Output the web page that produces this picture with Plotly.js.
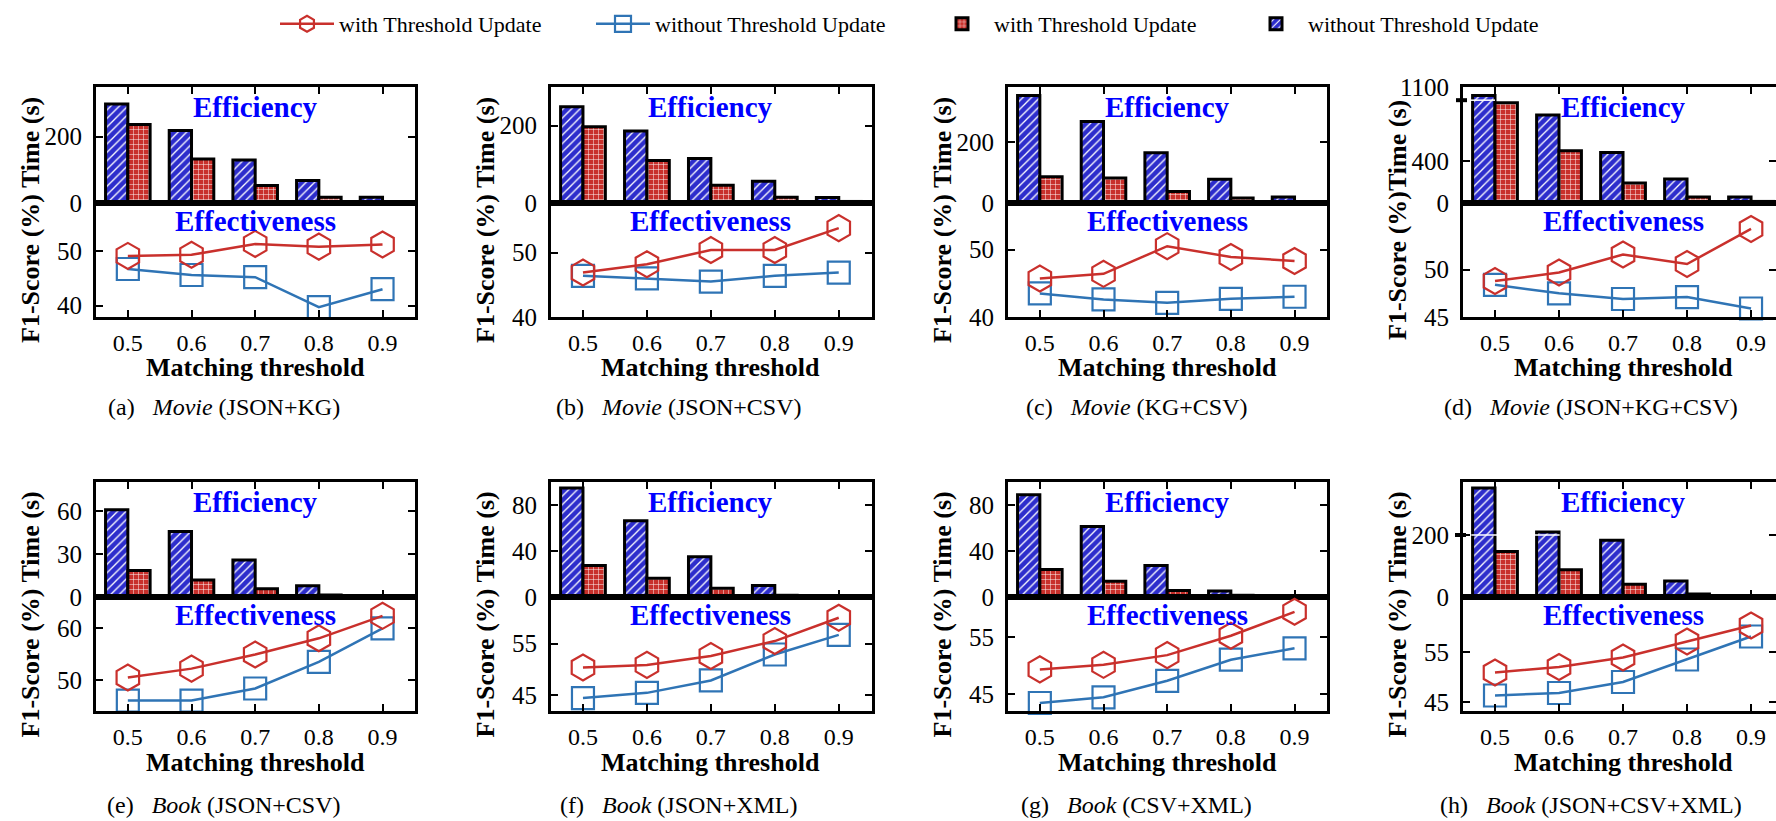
<!DOCTYPE html>
<html><head><meta charset="utf-8">
<script src="https://cdn.plot.ly/plotly-3.0.1.min.js"></script>
<style>html,body{margin:0;padding:0;background:#fff;} #chart{width:1776px;height:821px;}</style>
</head><body><div id="chart"></div>
<script>
// ---------- data ----------
const thresholds = [0.5, 0.6, 0.7, 0.8, 0.9];
const thresholdLabels = ['0.5', '0.6', '0.7', '0.8', '0.9'];
const seriesNames = ['with Threshold Update', 'without Threshold Update'];
const panelTags = ['(a)', '(b)', '(c)', '(d)', '(e)', '(f)', '(g)', '(h)'];
const panelDatasets = ['Movie', 'Movie', 'Movie', 'Movie', 'Book', 'Book', 'Book', 'Book'];
const panelSources = ['(JSON+KG)', '(JSON+CSV)', '(KG+CSV)', '(JSON+KG+CSV)', '(JSON+CSV)', '(JSON+XML)', '(CSV+XML)', '(JSON+CSV+XML)'];
const yTitles = ['F1-Score (%) Time (s)', 'F1-Score (%) Time (s)', 'F1-Score (%) Time (s)', 'F1-Score (%)Time (s)',
                 'F1-Score (%) Time (s)', 'F1-Score (%) Time (s)', 'F1-Score (%) Time (s)', 'F1-Score (%) Time (s)'];
const xTitle = 'Matching threshold';
const topLabel = 'Efficiency';
const bottomLabel = 'Effectiveness';

// Time (s), without threshold update (blue hatched bars), panels a..h
const timeWithout = [
  [299, 219, 130, 68, 17],
  [249, 186, 115, 56, 14],
  [352, 267, 165, 78, 20],
  [1020, 834, 480, 228, 57],
  [60.7, 45.6, 25.8, 7.9, 0.5],
  [94.8, 66.3, 34.9, 9.9, 0.5],
  [89, 61.2, 27.5, 5.3, 0.5],
  [352, 210, 183, 52, 4]
];
// Time (s), with threshold update (red grid bars)
const timeWith = [
  [237, 133, 53, 17, 4],
  [197, 110, 46, 15, 4],
  [86, 82, 38, 16, 5],
  [951, 496, 190, 57, 15],
  [18.4, 11.9, 5.8, 1.4, 0.2],
  [27.3, 16.3, 7.6, 1.5, 0.3],
  [24, 13.8, 5.6, 1.5, 0.3],
  [147, 88, 41, 10, 1]
];
// F1-Score (%), with threshold update (red hexagons)
const f1With = [
  [49.1, 49.3, 51.3, 50.8, 51.2],
  [46.9, 48.2, 50.4, 50.4, 53.8],
  [45.7, 46.4, 50.5, 48.9, 48.3],
  [48.8, 49.7, 51.6, 50.6, 54.3],
  [50.5, 52.2, 54.9, 58.0, 62.3],
  [50.4, 50.9, 52.6, 55.5, 60.0],
  [49.4, 50.2, 51.9, 55.3, 59.5],
  [50.9, 52.0, 53.9, 57.1, 60.3]
];
// F1-Score (%), without threshold update (blue squares)
const f1Without = [
  [46.7, 45.6, 45.2, 39.7, 43.0],
  [46.4, 46.0, 45.5, 46.4, 46.9],
  [43.5, 42.6, 42.1, 42.7, 43.0],
  [48.4, 47.5, 46.9, 47.1, 45.9],
  [46.1, 46.1, 48.4, 53.5, 59.9],
  [44.5, 45.5, 47.9, 52.9, 56.7],
  [43.5, 44.5, 47.4, 51.1, 53.1],
  [46.3, 46.8, 49.0, 53.5, 58.1]
];
const timeTickVals = [[0, 200], [0, 200], [0, 200], [0, 400, 1100], [0, 30, 60], [0, 40, 80], [0, 40, 80], [0, 200]];
const f1TickVals = [[40, 50], [40, 50], [40, 50], [45, 50], [50, 60], [45, 55], [45, 55], [45, 55]];

// ---------- axis ranges / geometry ----------
const timeRanges = [[0, 350], [0, 300], [0, 380], [0, 1100], [0, 80], [0, 100], [0, 100], [0, 371]];
const f1Ranges = [[37.9, 58.8], [40, 57.7], [40, 56.9], [45, 57.04], [44.1, 65.9], [42, 64], [42.1, 62.1], [43.2, 66]];

const W = 1776, H = 821;
const cols = [{l: 96, r: 415, xr: [0.45, 0.951]}, {l: 551, r: 872, xr: [0.45, 0.952]},
              {l: 1008, r: 1327, xr: [0.45, 0.951]}, {l: 1463, r: 1776, xr: [0.45, 0.939]}];
const rows = [{t: 87, m: 203, b: 317, cap: 407, xt: 367}, {t: 482, m: 597, b: 711, cap: 805, xt: 762}];
const legendWidths = {lineWith: 247, lineWithout: 270, barWith: 245, barWithout: 240};

const RED = '#c9302c', BLUE_LINE = '#2f74b5', BAR_BLUE = '#2d2dcc', BAR_RED = '#c8302b';
const FONT = 'Liberation Serif, Times New Roman, serif';

const traces = [];
const layout = {
  width: W, height: H,
  margin: {l: 0, r: 0, t: 0, b: 0},
  paper_bgcolor: '#ffffff', plot_bgcolor: '#ffffff',
  barmode: 'overlay',
  showlegend: true,
  font: {family: FONT, color: '#000', size: 24},
  legend: {orientation: 'h', x: 275 / W, xanchor: 'left', y: 1 - 3 / H, yanchor: 'top',
           font: {family: FONT, size: 22, color: '#000'}, itemwidth: 54, traceorder: 'normal',
           bgcolor: 'rgba(0,0,0,0)'},
  annotations: [],
  shapes: []
};

function axId(k) { return k === 1 ? '' : String(k); }

for (let i = 0; i < 8; i++) {
  const c = cols[i % 4], r = rows[Math.floor(i / 4)];
  const k1 = 2 * i + 1, k2 = 2 * i + 2;
  const xa1 = 'x' + axId(k1), ya1 = 'y' + axId(k1), xa2 = 'x' + axId(k2), ya2 = 'y' + axId(k2);
  const first = i === 0;

  traces.push({
    type: 'bar', x: thresholds, y: timeWithout[i], xaxis: xa1, yaxis: ya1,
    width: 0.035, offset: -0.035, name: seriesNames[1], showlegend: first, legendrank: 4,
    legendwidth: legendWidths.barWithout,
    marker: {color: BAR_BLUE, line: {color: '#000', width: 3},
             pattern: {shape: '/', bgcolor: BAR_BLUE, fgcolor: '#ffffff', size: 6, solidity: 0.22, fillmode: 'replace'}},
    hoverinfo: 'skip'
  });
  traces.push({
    type: 'bar', x: thresholds, y: timeWith[i], xaxis: xa1, yaxis: ya1,
    width: 0.035, offset: 0, name: seriesNames[0], showlegend: first, legendrank: 3,
    legendwidth: legendWidths.barWith,
    marker: {color: BAR_RED, line: {color: '#000', width: 3},
             pattern: {shape: '+', bgcolor: BAR_RED, fgcolor: '#ffffff', size: 5, solidity: 0.18, fillmode: 'replace'}},
    hoverinfo: 'skip'
  });
  traces.push({
    type: 'scatter', mode: 'lines+markers', x: thresholds, y: f1Without[i], xaxis: xa2, yaxis: ya2,
    name: seriesNames[1], showlegend: first, legendrank: 2, cliponaxis: false,
    legendwidth: legendWidths.lineWithout,
    line: {color: BLUE_LINE, width: 2.5},
    marker: {symbol: 'square-open', size: 22, color: BLUE_LINE, line: {width: 2.2, color: BLUE_LINE}}
  });
  traces.push({
    type: 'scatter', mode: 'lines+markers', x: thresholds, y: f1With[i], xaxis: xa2, yaxis: ya2,
    name: seriesNames[0], showlegend: first, legendrank: 1, cliponaxis: false,
    legendwidth: legendWidths.lineWith,
    line: {color: RED, width: 2.5},
    marker: {symbol: 'hexagon-open', size: 26, color: RED, line: {width: 2.2, color: RED}}
  });

  const xdom = [c.l / W, c.r / W];
  const common = {showline: true, linecolor: '#000', linewidth: 3, showgrid: false, zeroline: false,
                  ticks: 'inside', ticklen: 7, tickwidth: 2, tickcolor: '#000',
                  tickfont: {family: FONT, size: 24, color: '#000'}};
  layout['xaxis' + axId(k1)] = Object.assign({}, common, {
    domain: xdom, range: c.xr, anchor: ya1, tickvals: thresholds, showticklabels: false, mirror: 'ticks'
  });
  layout['yaxis' + axId(k1)] = Object.assign({}, common, {
    domain: [1 - r.m / H, 1 - r.t / H], range: timeRanges[i], anchor: xa1,
    tickvals: timeTickVals[i], ticktext: timeTickVals[i].map(String), mirror: 'ticks', ticklabelstandoff: 6,
    tickfont: {family: FONT, size: 25, color: '#000'}
  });
  layout['xaxis' + axId(k2)] = Object.assign({}, common, {
    domain: xdom, range: c.xr, anchor: ya2, tickvals: thresholds, ticktext: thresholdLabels, mirror: true,
    ticklabelstandoff: 2
  });
  layout['yaxis' + axId(k2)] = Object.assign({}, common, {
    domain: [1 - r.b / H, 1 - r.m / H], range: f1Ranges[i], anchor: xa2,
    tickvals: f1TickVals[i], ticktext: f1TickVals[i].map(String), mirror: 'ticks', ticklabelstandoff: 6,
    tickfont: {family: FONT, size: 25, color: '#000'}
  });

  const ann = layout.annotations;
  ann.push({xref: xa1, yref: 'paper', x: 0.7, y: 1 - (r.t + 20) / H, text: '<b>' + topLabel + '</b>',
            showarrow: false, xanchor: 'center', yanchor: 'middle', font: {family: FONT, size: 29, color: '#0000ff'}});
  ann.push({xref: xa2, yref: 'paper', x: 0.7, y: 1 - (r.m + 18) / H, text: '<b>' + bottomLabel + '</b>',
            showarrow: false, xanchor: 'center', yanchor: 'middle', font: {family: FONT, size: 29, color: '#0000ff'}});
  ann.push({xref: 'paper', yref: 'paper', x: (c.l - 66) / W, y: 1 - (r.t + r.b + 2 * 18) / 2 / H,
            text: '<b>' + yTitles[i] + '</b>', textangle: -90, showarrow: false, xanchor: 'center', yanchor: 'middle',
            font: {family: FONT, size: 26, color: '#000'}});
  ann.push({xref: xa2, yref: 'paper', x: 0.7, y: 1 - r.xt / H, text: '<b>' + xTitle + '</b>',
            showarrow: false, xanchor: 'center', yanchor: 'middle', font: {family: FONT, size: 26, color: '#000'}});
  ann.push({xref: 'paper', yref: 'paper', x: (c.l + 128) / W, y: 1 - r.cap / H,
            text: panelTags[i] + '\u00a0\u00a0\u00a0<i>' + panelDatasets[i] + '</i> ' + panelSources[i],
            showarrow: false, xanchor: 'center', yanchor: 'middle', font: {family: FONT, size: 24, color: '#000'}});
}

// axis-break marks in panels (d) and (h)
layout.shapes.push({type: 'line', xref: 'x7', yref: 'y7', x0: 0.45, x1: 0.5, y0: 975, y1: 975, line: {color: '#fff', width: 1.5}, layer: 'above'});
layout.shapes.push({type: 'line', xref: 'paper', yref: 'y7', x0: 1456 / W, x1: 1467 / W, y0: 975, y1: 975, line: {color: '#000', width: 4}, layer: 'above'});
layout.shapes.push({type: 'line', xref: 'x15', yref: 'y15', x0: 0.463, x1: 0.601, y0: 200, y1: 200, line: {color: '#fff', width: 1.5}, layer: 'above'});
layout.shapes.push({type: 'line', xref: 'paper', yref: 'y15', x0: 1455 / W, x1: 1466 / W, y0: 200, y1: 200, line: {color: '#000', width: 4}, layer: 'above'});

Plotly.newPlot('chart', traces, layout, {staticPlot: true, displayModeBar: false});
</script>
</body></html>
